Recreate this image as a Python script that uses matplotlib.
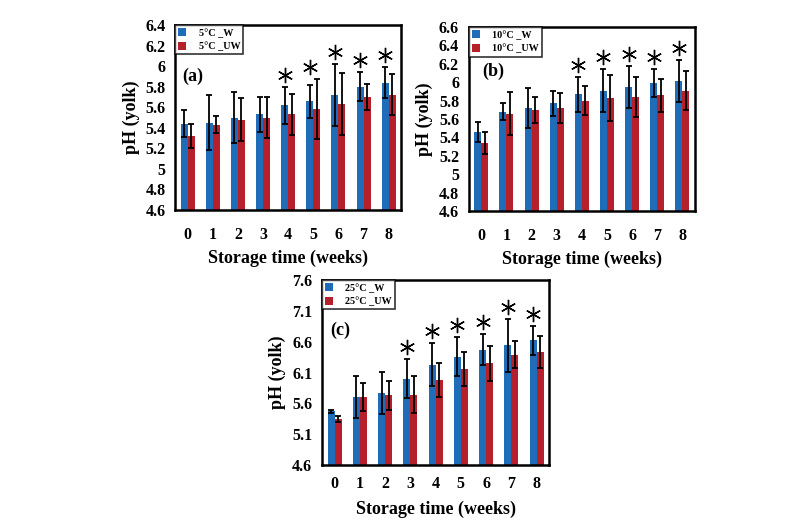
import numpy as np
import matplotlib
matplotlib.use("Agg")
import matplotlib.pyplot as plt
from matplotlib.ticker import FormatStrFormatter

plt.rcParams['font.family'] = ['Liberation Serif', 'DejaVu Serif']
plt.rcParams['font.weight'] = 'bold'

weeks = [0, 1, 2, 3, 4, 5, 6, 7, 8]

# panel (a) 5 C
a_w = [5.44, 5.45, 5.50, 5.53, 5.62, 5.66, 5.72, 5.80, 5.84]
a_w_err = [0.13, 0.27, 0.25, 0.17, 0.18, 0.16, 0.30, 0.14, 0.15]
a_uw = [5.32, 5.43, 5.48, 5.50, 5.53, 5.58, 5.63, 5.70, 5.72]
a_uw_err = [0.12, 0.08, 0.21, 0.20, 0.20, 0.29, 0.30, 0.13, 0.20]
a_stars = [4, 5, 6, 7, 8]

# panel (b) 10 C
b_w = [5.46, 5.68, 5.72, 5.77, 5.87, 5.91, 5.95, 5.99, 6.01]
b_w_err = [0.11, 0.09, 0.22, 0.14, 0.19, 0.23, 0.23, 0.15, 0.23]
b_uw = [5.34, 5.66, 5.70, 5.72, 5.80, 5.83, 5.84, 5.86, 5.91]
b_uw_err = [0.12, 0.23, 0.14, 0.16, 0.16, 0.25, 0.22, 0.18, 0.21]
b_stars = [4, 5, 6, 7, 8]

# panel (c) 25 C
c_w = [5.47, 5.70, 5.77, 6.00, 6.23, 6.36, 6.47, 6.54, 6.62]
c_w_err = [0.03, 0.34, 0.34, 0.32, 0.35, 0.32, 0.25, 0.43, 0.24]
c_uw = [5.35, 5.70, 5.73, 5.74, 5.98, 6.16, 6.25, 6.39, 6.43]
c_uw_err = [0.05, 0.23, 0.24, 0.30, 0.28, 0.28, 0.28, 0.22, 0.26]
c_stars = [3, 4, 5, 6, 7, 8]

BLUE = '#1f6db8'
RED = '#b5202a'

fig = plt.figure(figsize=(8, 5.27), dpi=100)


def panel(rect, w, w_err, uw, uw_err, stars, temp, tag, ylim, step, tagpos, xpad, labpad):
    ax = fig.add_axes(rect)
    x = np.arange(len(weeks))
    bw = 0.28
    ax.bar(x - bw/2, w, bw, color=BLUE, label=temp + '°C _W', zorder=2)
    ax.bar(x + bw/2, uw, bw, color=RED, label=temp + '°C _UW', zorder=2)
    ax.errorbar(x - bw/2, w, yerr=w_err, fmt='none', ecolor='black', elinewidth=1.3,
                capsize=2.5, capthick=1.3, zorder=3)
    ax.errorbar(x + bw/2, uw, yerr=uw_err, fmt='none', ecolor='black', elinewidth=1.3,
                capsize=2.5, capthick=1.3, zorder=3)
    rng = ylim[1] - ylim[0]
    for i in stars:
        top = max(w[i] + w_err[i], uw[i] + uw_err[i])
        ax.plot(x[i] - bw/2, top + 0.065*rng, marker=(6, 2, 0), ms=11, mew=1.0,
                color='black', zorder=4)
    ax.set_xlim(-0.5, len(weeks) - 0.5)
    ax.set_ylim(*ylim)
    ax.set_yticks(np.arange(ylim[0], ylim[1] + step/2, step))
    ax.yaxis.set_major_formatter(FormatStrFormatter('%g'))
    ax.set_xticks(x)
    ax.set_xticklabels([str(k) for k in weeks])
    ax.tick_params(axis='both', length=0, labelsize=11.5)
    ax.tick_params(axis='x', pad=xpad)
    ax.tick_params(axis='y', pad=7)
    for s in ax.spines.values():
        s.set_linewidth(1.8)
    ax.set_xlabel('Storage time (weeks)', fontsize=13, fontweight='bold', labelpad=labpad)
    ax.set_ylabel('pH (yolk)', fontsize=13, fontweight='bold', labelpad=4)
    leg = ax.legend(loc='upper left', borderaxespad=0, fontsize=7.3, frameon=True,
                    fancybox=False, handlelength=0.8, handleheight=0.8,
                    handletextpad=1.2, borderpad=0.3, labelspacing=0.4)
    leg.get_frame().set_edgecolor('black')
    leg.get_frame().set_linewidth(1.2)
    ax.text(tagpos[0], tagpos[1], tag, transform=ax.transAxes, fontsize=13,
            fontweight='bold', va='center', ha='left')
    return ax


panel([0.219, 0.6015, 0.2825, 0.351], a_w, a_w_err, a_uw, a_uw_err, a_stars,
      '5', '(a)', (4.6, 6.4), 0.2, (0.03, 0.72), 12, 5)
panel([0.586, 0.5996, 0.2825, 0.349], b_w, b_w_err, b_uw, b_uw_err, b_stars,
      '10', '(b)', (4.6, 6.6), 0.2, (0.058, 0.76), 12, 5)
panel([0.4025, 0.1176, 0.284, 0.351], c_w, c_w_err, c_uw, c_uw_err, c_stars,
      '25', '(c)', (4.6, 7.6), 0.5, (0.035, 0.73), 8, 6)

fig.savefig('out.png', dpi=100)
